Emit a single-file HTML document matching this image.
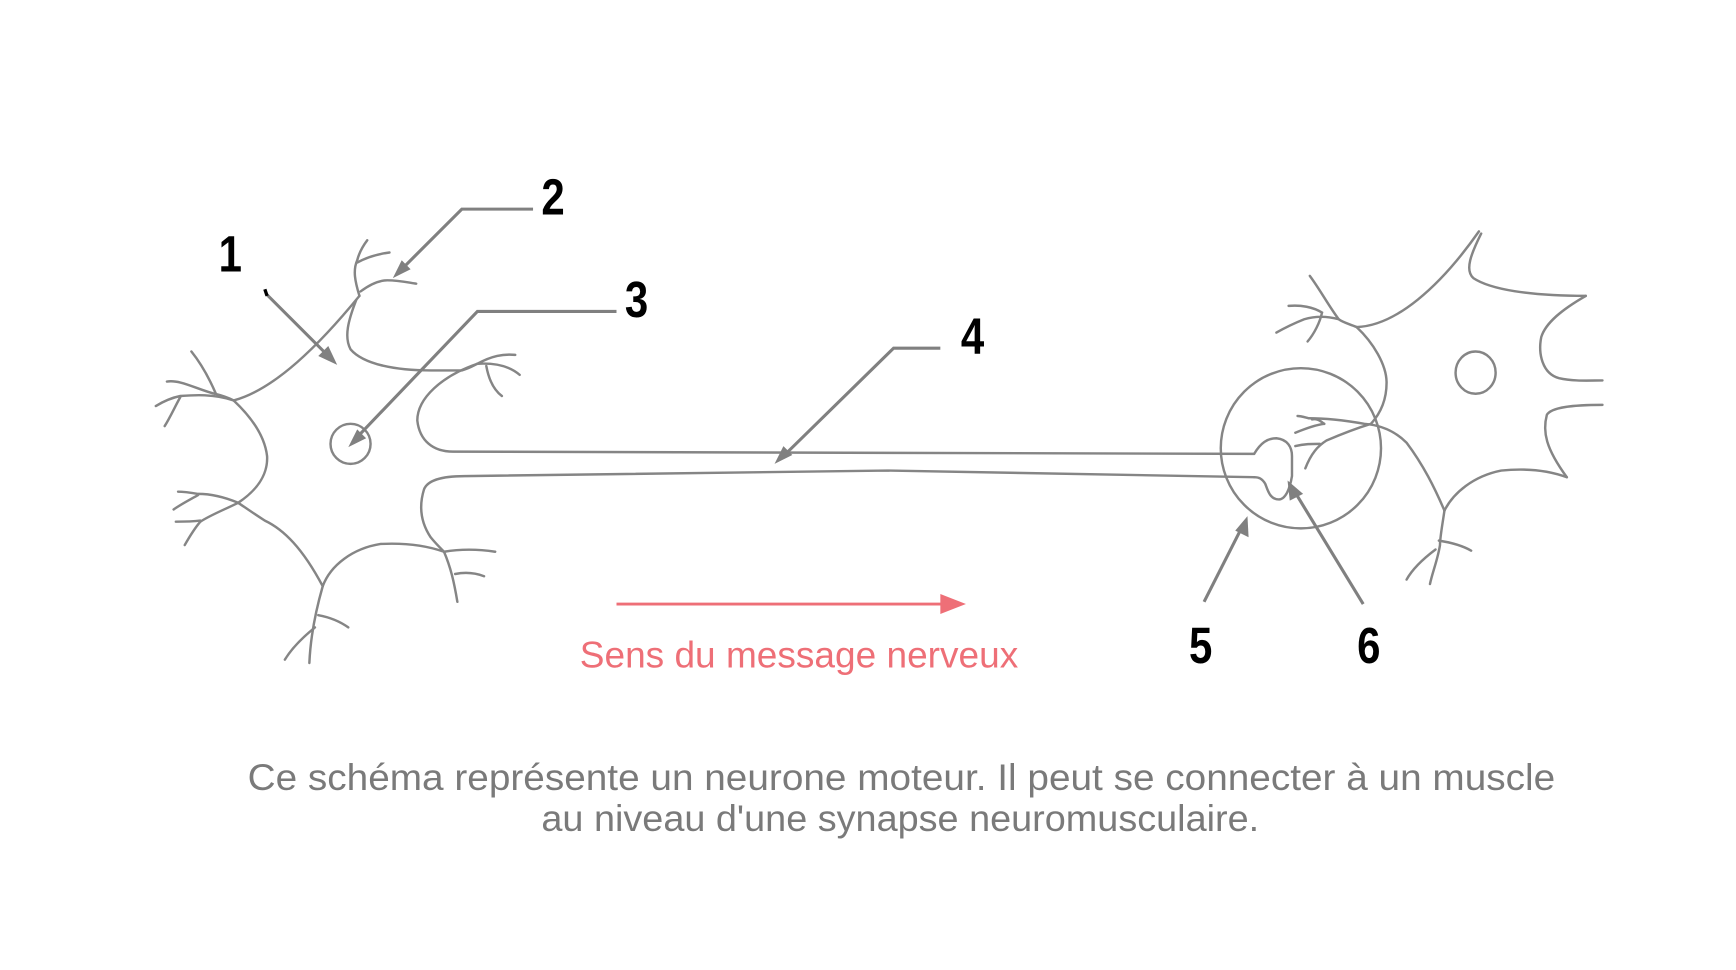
<!DOCTYPE html>
<html><head><meta charset="utf-8"><style>
html,body{margin:0;padding:0;background:#fff;}
svg{display:block;}
</style></head><body>
<svg width="1736" height="970" viewBox="0 0 1560 872" preserveAspectRatio="none" xmlns="http://www.w3.org/2000/svg">
<g transform="translate(-3,-2)">
<g fill="none" stroke="#858585" stroke-width="2.2" stroke-linecap="round">
<!-- left neuron -->
<path d="M213,362 C250,352 290,312 326,268"/>
<path d="M326,268 C322,255 320,245 324,236 C326,228 330,222 333,218"/>
<path d="M324,238 C335,232 345,230 353,229"/>
<path d="M327,264 C335,258 343,254 351,254 C362,254 370,256 377,257"/>
<path d="M323,272 C316,290 312,305 318,316 C330,330 360,335 390,335 L418,335 C425,333 428,331 432,329"/>
<path d="M432,329 C445,322 455,320 466,321"/>
<path d="M432,329 C450,328 462,332 470,339"/>
<path d="M440,331 C442,342 446,352 454,358"/>
<path d="M432,329 C400,340 378,360 378,380 C380,398 392,408 410,408 L1130,410"/>
<path d="M1130,410 C1136,400 1142,396 1150,396 C1160,397 1164,404 1164,412 L1164,430 C1162,442 1158,451 1152,451 C1144,451 1142,442 1140,437 C1137,432 1134,431 1130,431"/>
<path d="M1130,431 L800,425 L420,430 C400,430 387,434 384,442 C380,455 380,470 390,485 C394,490 398,494 402,498"/>
<path d="M402,498 C420,495 435,496 448,498"/>
<path d="M402,498 C408,512 411,525 414,543"/>
<path d="M412,518 C422,516 430,517 438,520"/>
<path d="M402,498 C385,492 365,490 345,491 C320,495 300,510 293,529"/>
<path d="M293,529 C287,550 282,575 281,598"/>
<path d="M289,555 C300,557 309,561 316,566"/>
<path d="M286,566 C275,575 265,585 259,595"/>
<path d="M293,529 C275,495 258,478 241,470 C230,463 223,458 217,454"/>
<path d="M217,454 C205,449 193,446 181,446 C175,445 168,444 163,444"/>
<path d="M217,454 C205,460 192,465 183,471 C177,478 173,485 169,492"/>
<path d="M183,470 C175,471 168,471 161,471"/>
<path d="M181,447 C174,451 166,455 159,460"/>
<path d="M217,454 C232,444 244,430 243,412 C241,395 230,378 213,362"/>
<path d="M213,362 C205,358 200,357 196,356 C180,352 165,343 153,345"/>
<path d="M197,356 C191,342 183,328 175,318"/>
<path d="M213,362 C195,356 178,357 165,358 C155,360 148,364 143,367"/>
<path d="M165,359 C160,368 156,377 151,385"/>
<circle cx="318" cy="401" r="18"/>
<g transform="translate(-3,0)">
<!-- right neuron -->
<path d="M1335,210 C1300,260 1260,295 1225,296"/>
<path d="M1337,212 C1328,230 1322,245 1330,252 C1345,262 1380,268 1431,268"/>
<path d="M1431,268 C1410,280 1395,292 1391,305 C1388,320 1392,338 1407,342 C1420,345 1435,344 1446,344"/>
<path d="M1446,366 C1420,366 1400,368 1396,375 C1392,390 1395,405 1414,431"/>
<path d="M1414,431 C1395,424 1375,423 1355,425 C1330,430 1312,445 1304,461"/>
<path d="M1304,461 C1302,475 1300,485 1300,492 C1298,505 1293,517 1291,527"/>
<path d="M1299,488 C1312,490 1321,493 1328,497"/>
<path d="M1296,496 C1284,505 1275,514 1270,523"/>
<path d="M1304,461 C1295,440 1285,420 1270,400 C1258,388 1245,384 1232,383 C1215,380 1195,378 1182,378 C1178,377 1175,376 1172,376"/>
<path d="M1185,379 C1190,378 1193,381 1196,383"/>
<path d="M1170,391 C1180,387 1188,384 1196,383"/>
<path d="M1170,403 C1178,401 1185,401 1192,401"/>
<path d="M1179,423 C1184,410 1190,403 1198,398 C1212,392 1225,387 1238,383"/>
<path d="M1225,296 C1240,310 1252,330 1252,346 C1252,360 1248,372 1238,383"/>
<path d="M1225,296 C1218,293 1213,292 1209,289 C1200,277 1192,262 1183,250"/>
<path d="M1209,289 C1198,286 1188,286 1178,289 C1168,293 1160,297 1153,301"/>
<path d="M1164,277 C1175,276 1186,278 1194,283 C1192,292 1187,302 1181,309"/>
<ellipse cx="1332" cy="337" rx="18" ry="19"/>
</g>
<circle cx="1172" cy="405" r="72"/>
</g>
<!-- label arrows -->
<g fill="none" stroke="#808080" stroke-width="2.8">
<path d="M242,266 L300,324"/>
<path d="M482,190 L418,190 L362,246"/>
<path d="M557,282 L432,282 L322,397"/>
<path d="M848,315 L806,315 L706,413"/>
<path d="M1085,543 L1120,474"/>
<path d="M1228,545 L1164,440"/>
</g>
<g fill="#808080">
<polygon points="306,330 289,322 298,313"/>
<polygon points="356,252 364,236 372,244"/>
<polygon points="316,404 324,388 332,396"/>
<polygon points="699,419 707,403 715,411"/>
<polygon points="1124,466 1125,485 1113,479"/>
<polygon points="1160,434 1174,446 1162,452"/>
</g>
<path d="M241,262 L243,268" stroke="#000" stroke-width="3"/>
<g font-family="'Liberation Sans Narrow','Liberation Sans',sans-serif" font-weight="bold" font-size="46" fill="#000" text-anchor="middle">
<text transform="translate(210,246) scale(0.82,1)">1</text>
<text transform="translate(500,195) scale(0.82,1)">2</text>
<text transform="translate(575,287) scale(0.82,1)">3</text>
<text transform="translate(877,320) scale(0.82,1)">4</text>
<text transform="translate(1082,598) scale(0.82,1)">5</text>
<text transform="translate(1233,598) scale(0.82,1)">6</text>
</g>
<!-- red arrow -->
<line x1="557" y1="545" x2="852" y2="545" stroke="#ee6f77" stroke-width="2.6"/>
<polygon points="871,545 848,536 848,554" fill="#ee6f77"/>
<text x="721" y="602" font-family="'Liberation Sans',sans-serif" font-size="33" fill="#ee6f77" text-anchor="middle" textLength="394" lengthAdjust="spacingAndGlyphs">Sens du message nerveux</text>
<g font-family="'Liberation Sans',sans-serif" font-size="33" fill="#7a7a7a" text-anchor="middle">
<text x="813" y="712" textLength="1175" lengthAdjust="spacingAndGlyphs">Ce schéma représente un neurone moteur. Il peut se connecter à un muscle</text>
<text x="812" y="749" textLength="645" lengthAdjust="spacingAndGlyphs">au niveau d'une synapse neuromusculaire.</text>
</g>
</g>
</svg>
</body></html>
